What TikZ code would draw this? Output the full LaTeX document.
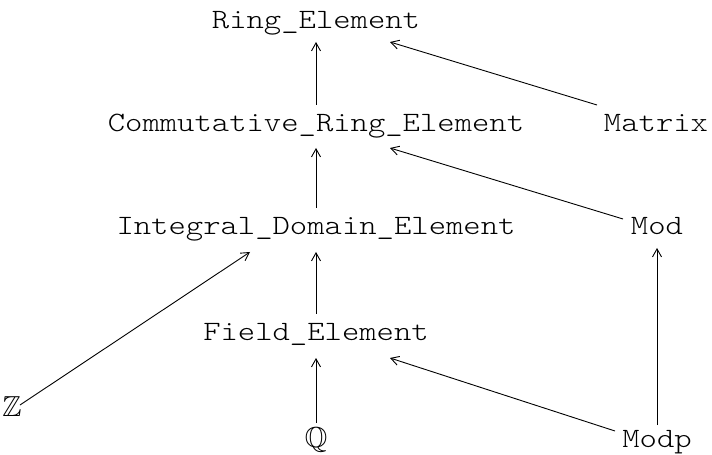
\documentclass[tikz,border=0pt]{standalone}
\usepackage{amssymb}
\usepackage{fontspec}
% light monospace with serifs, widened to a Courier-like pitch
\newfontfamily\clsfont{lmmonolt10-regular.otf}[FakeStretch=1.18]
\usetikzlibrary{arrows.meta,calc}

\tikzset{
  cls/.style={anchor=base, inner sep=0pt, font=\clsfont\fontsize{28bp}{30bp}\selectfont},
  setsym/.style={anchor=base, inner sep=0pt, font=\fontsize{28.9bp}{30bp}\selectfont},
  isa/.style={line width=0.9bp, -{Straight Barb[length=8bp,width=9bp,line width=0.9bp]}}
}

\begin{document}
\begin{tikzpicture}[x=1bp, y=-1bp]
  \useasboundingbox (0,0) rectangle (712,455);

  % class nodes, placed on their baselines
  \node[cls]    (ring)   at (316,29)  {Ring\_Element};
  \node[cls]    (comm)   at (316,132) {Commutative\_Ring\_Element};
  \node[cls]    (matrix) at (656,132) {Matrix};
  \node[cls]    (integ)  at (316,235) {Integral\_Domain\_Element};
  \node[cls]    (mod)    at (657,235) {Mod};
  \node[setsym] (zz)     at (12,416)  {$\mathbb{Z}$};
  \node[cls]    (field)  at (316,341) {Field\_Element};
  \node[setsym] (qq)     at (316,447) {$\mathbb{Q}$};
  \node[cls]    (modp)   at (657,447) {Modp};

  % inheritance arrows, child to parent
  \draw[isa] ($(comm.base)+(0,-27)$)    -- ($(ring.base)+(0,13)$);
  \draw[isa] ($(matrix.base)+(-59,-27)$) -- ($(ring.base)+(74,13)$);
  \draw[isa] ($(integ.base)+(0,-27)$)   -- ($(comm.base)+(0,16)$);
  \draw[isa] ($(mod.base)+(-34,-16)$)   -- ($(comm.base)+(74,16)$);
  \draw[isa] ($(zz.base)+(8,-11)$)      -- ($(integ.base)+(-66,17)$);
  \draw[isa] ($(field.base)+(0,-27)$)   -- ($(integ.base)+(0,17)$);
  \draw[isa] ($(modp.base)+(-42,-16)$)  -- ($(field.base)+(74,17)$);
  \draw[isa] ($(modp.base)+(0,-22)$)    -- ($(mod.base)+(0,13)$);
  \draw[isa] ($(qq.base)+(0,-24)$)      -- ($(field.base)+(0,17)$);
\end{tikzpicture}
\end{document}
